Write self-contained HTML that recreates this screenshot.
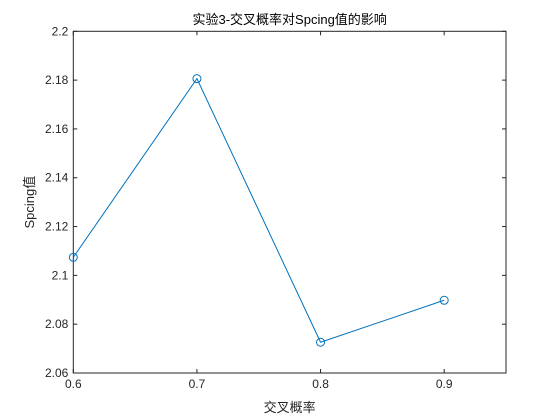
<!DOCTYPE html>
<html><head><meta charset="utf-8"><style>
html,body{margin:0;padding:0;background:#fff;width:560px;height:420px;overflow:hidden}
text{font-family:"Liberation Sans","Noto Sans CJK SC",sans-serif}
</style></head><body>
<svg id="chart" width="560" height="420" xmlns="http://www.w3.org/2000/svg"></svg>
<script>
const xValues = [0.6, 0.7, 0.8, 0.9];
const yValues = [2.1074, 2.1806, 2.0726, 2.0898];
const xTicks = [0.6, 0.7, 0.8, 0.9];
const xTickLabels = ["0.6", "0.7", "0.8", "0.9"];
const yTicks = [2.06, 2.08, 2.1, 2.12, 2.14, 2.16, 2.18, 2.2];
const yTickLabels = ["2.06", "2.08", "2.1", "2.12", "2.14", "2.16", "2.18", "2.2"];

const L = 73.3, R = 506, T = 31.3, B = 373;
const xMin = 0.6, xMax = 0.95, yMin = 2.06, yMax = 2.2;
const sx = v => L + (v - xMin) / (xMax - xMin) * (R - L);
const sy = v => B - (v - yMin) / (yMax - yMin) * (B - T);
const svg = document.getElementById('chart');
const NS = 'http://www.w3.org/2000/svg';
function mk(tag, attrs, parent) {
  const e = document.createElementNS(NS, tag);
  for (const k in attrs) e.setAttribute(k, attrs[k]);
  (parent || svg).appendChild(e);
  return e;
}
const box = mk('rect', {x: L, y: T, width: R - L, height: B - T, fill: '#fff', stroke: '#262626', 'stroke-width': 1});



const xg = mk('g', {});


xTicks.forEach((t, i) => {
  const x = sx(t);
  mk('line', {x1: x, x2: x, y1: B, y2: B - 4, stroke: '#262626'}, xg);
  mk('line', {x1: x, x2: x, y1: T, y2: T + 4, stroke: '#262626'}, xg);
  const lb = mk('text', {x: x, y: B + 15, 'text-anchor': 'middle', 'font-size': 12, fill: '#262626'}, xg);
  lb.textContent = xTickLabels[i];
  
  
});
const yg = mk('g', {});


yTicks.forEach((t, i) => {
  const y = sy(t);
  mk('line', {x1: L, x2: L + 4, y1: y, y2: y, stroke: '#262626'}, yg);
  mk('line', {x1: R, x2: R - 4, y1: y, y2: y, stroke: '#262626'}, yg);
  const lb = mk('text', {x: L - 5, y: y + 4, 'text-anchor': 'end', 'font-size': 12, fill: '#262626'}, yg);
  lb.textContent = yTickLabels[i];
  
  
});

const pts = xValues.map((v, i) => sx(v) + ',' + sy(yValues[i])).join(' ');
const line = mk('polyline', {points: pts, fill: 'none', stroke: '#0072BD', 'stroke-width': 1});


xValues.forEach((v, i) => {
  const c = mk('circle', {cx: sx(v), cy: sy(yValues[i]), r: 4, fill: 'none', stroke: '#0072BD', 'stroke-width': 1});
  
  
});

const title = mk('text', {x: (L + R) / 2, y: 24, 'text-anchor': 'middle', 'font-size': 13, fill: '#000'});
title.textContent = '实验3-交叉概率对Spcing值的影响';


const xt = mk('text', {x: (L + R) / 2, y: 412, 'text-anchor': 'middle', 'font-size': 13, fill: '#262626'});
xt.textContent = '交叉概率';


const yt = mk('text', {x: 0, y: 0, 'text-anchor': 'middle', 'font-size': 13, fill: '#262626', transform: 'translate(34,' + ((T + B) / 2) + ') rotate(-90)'});
yt.textContent = 'Spcing值';


</script>
</body></html>
